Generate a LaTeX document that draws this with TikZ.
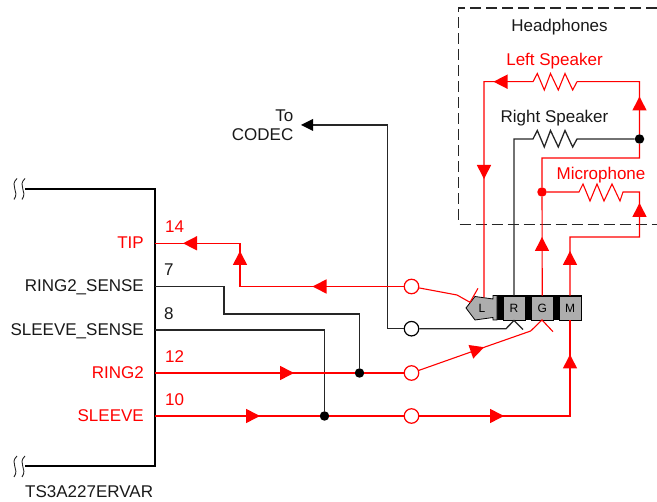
\documentclass[tikz,border=0pt]{standalone}
\usepackage{fontspec}
\setmainfont{Liberation Sans}
\usetikzlibrary{arrows.meta}
\definecolor{rd}{RGB}{255,0,0}
\tikzset{
 rline/.style={draw=rd,line width=1.1pt,line join=miter},
 bline/.style={draw=black!85,line width=1.3pt},
 rtxt/.style={text=rd,font=\fontsize{17}{19}\selectfont,inner sep=0pt},
 btxt/.style={text=black!90,font=\fontsize{17}{19}\selectfont,inner sep=0pt},
 rdot/.style={circle,fill=rd,inner sep=0pt,minimum size=9.5pt},
 bdot/.style={circle,fill=black,inner sep=0pt,minimum size=9.5pt},
 ropen/.style={circle,draw=rd,fill=white,line width=1.2pt,inner sep=0pt,minimum size=14.5pt},
 bopen/.style={circle,draw=black,fill=white,line width=1.2pt,inner sep=0pt,minimum size=14.5pt},
 seg/.style={draw=black,line width=0.8pt,fill=black!32,minimum width=22pt,minimum height=24pt,inner sep=0pt,font=\fontsize{12}{13}\selectfont},
 squig/.style={draw=black!85,line width=0.9pt},
}
\newcommand{\rarrow}[3]{\fill[rd,shift={(#1,#2)},rotate=#3] (7,0)--(-7,7.2)--(-7,-7.2)--cycle;}
\newcommand{\barrow}[3]{\fill[black,shift={(#1,#2)},rotate=#3] (6,0)--(-6,6)--(-6,-6)--cycle;}
\begin{document}
\begin{tikzpicture}[x=1pt,y=-1pt]
\useasboundingbox (0,0) rectangle (657,502);
% chip outline
\coordinate (ct) at (25,189); \coordinate (cb) at (25,466.5);
\draw[line width=2pt] (ct) -- (155,189) -- (155,466.5) -- (cb);
\foreach \y in {189,466.5}{
 \draw[squig] (17,\y-10.5) .. controls (9,\y-3) and (20,\y+2) .. (14,\y+10.5);
 \draw[squig] (25,\y-10.5) .. controls (17,\y-3) and (28,\y+2) .. (22,\y+10.5);
}
% headphones box
\draw[line width=1.2pt,draw=black!85,dash pattern=on 11pt off 5pt] (657,8) -- (458.5,8) -- (458.5,224.5) -- (657,224.5);
% labels
\node[btxt,anchor=base] (hp) at (559.5,32) {Headphones};
\node[rtxt,anchor=base] (ls) at (554.5,66) {Left Speaker};
\node[btxt,anchor=base] (rs) at (554.5,123) {Right Speaker};
\node[rtxt,anchor=base] (mic) at (601,180) {Microphone};
\node[btxt,anchor=base east] (to) at (293.5,122) {To};
\node[btxt,anchor=base east] (codec) at (293.5,141) {CODEC};
\node[rtxt,anchor=base east] (ltip) at (144,249) {TIP};
\node[btxt,anchor=base east] (lr2s) at (144,292) {RING2\_SENSE};
\node[btxt,anchor=base east] (lss) at (144,336) {SLEEVE\_SENSE};
\node[rtxt,anchor=base east] (lr2) at (144,379) {RING2};
\node[rtxt,anchor=base east] (lsl) at (144,422) {SLEEVE};
\node[rtxt,anchor=base west] (n14) at (165,233) {14};
\node[btxt,anchor=base west] (n7) at (164,276) {7};
\node[btxt,anchor=base west] (n8) at (164,320) {8};
\node[rtxt,anchor=base west] (n12) at (165,363) {12};
\node[rtxt,anchor=base west] (n10) at (165,406) {10};
\node[btxt,anchor=base west] (part) at (25,497.5) {TS3A227ERVAR};
% named points
\coordinate (t1) at (240,286.5);
\coordinate (s1) at (224,286.5);
\coordinate (s2) at (224,314);
\coordinate (s3) at (359.5,314);
\coordinate (s4) at (324.5,330);
\coordinate (tipin) at (155,243.3);
\coordinate (tipup) at (240,243.3);
\coordinate (c1) at (387.5,328.7);
\coordinate (c2) at (387.5,125);
\coordinate (c3) at (304,125);
\node[ropen] (ot) at (411.5,286.5) {};
\node[bopen] (ob) at (411.5,328.7) {};
\node[ropen] (or) at (411.5,373) {};
\node[ropen] (os) at (411.5,416) {};
\node[bdot] (d1) at (359.5,373) {};
\node[bdot] (d2) at (324.5,416) {};
\node[bdot] (d3) at (639.5,139) {};
\node[rdot] (d4) at (542,192) {};
% plug
\fill[black] (497,295.5) rectangle (582,320);
\draw[line width=0.8pt,fill=black!32] (466,308) -- (475,296.5) -- (493,299) -- (493,295.5) -- (497,295.5) -- (497,320) -- (493,320) -- (493,317.5) -- (475,320) -- cycle;
\node[font=\fontsize{12}{13}\selectfont] (pL) at (482,308) {L};
\node[seg] (pR) at (514,308) {R};
\node[seg] (pG) at (542.3,308) {G};
\node[seg] (pM) at (570,308) {M};
% black wires
\draw[bline] (155,286.5) -- (s1) -- (s2) -- (s3) -- (d1);
\draw[bline] (155,330) -- (s4) -- (d2);
\draw[bline] (ob) -- (c1) -- (c2) -- (c3);
\draw[bline] (ob) -- (506,328.7) -- (514,320.5) -- (523,329.5);
\draw[bline] (pR) -- (514,139) -- (533,139) -- (537.3,130.5) -- (544.3,147) -- (550.5,130.5) -- (558.3,147) -- (565,130.5) -- (572.7,147) -- (577,139) -- (d3);
\barrow{307}{125}{180}
% red wires
\draw[rline] (tipin) -- (tipup) -- (t1) -- (ot);
\draw[rline] (ot) -- (457,295) -- (470,302.3) -- (478,288.3);
\draw[rline] (155,373) -- (d1) -- (or);
\draw[rline] (or) -- (485,347) -- (530.7,331) -- (542,320) -- (553,331.7);
\draw[rline] (155,416) -- (d2) -- (os) -- (570,416) -- (pM);
\draw[rline] (pG) -- (d4) -- (542,158) -- (639.5,158) -- (d3) -- (639.5,81.7) -- (577,81.7);
\draw[rline] (d4) -- (579,192) -- (583,184) -- (590,201) -- (597,184) -- (604,201) -- (612,184) -- (620,201) -- (623,192) -- (639.5,192) -- (639.5,237) -- (570,237) -- (pM);
\draw[rline] (577,81.7) -- (572.7,90) -- (565,73.5) -- (558.3,90) -- (550.5,73.5) -- (544.3,90) -- (537.3,73.5) -- (533,81.7) -- (484,81.7) -- (484,297.5);
\rarrow{190}{243.3}{180}
\rarrow{240}{258}{90}
\rarrow{319.5}{286.5}{180}
\rarrow{287}{373}{0}
\rarrow{253}{416}{0}
\rarrow{497}{416}{0}
\rarrow{570}{361.5}{90}
\rarrow{477.5}{349.5}{19}
\rarrow{570}{258}{90}
\rarrow{542}{244}{90}
\rarrow{639.5}{210}{90}
\rarrow{639.5}{103.5}{90}
\rarrow{500.5}{81.7}{180}
\rarrow{484}{172}{-90}
\end{tikzpicture}
\end{document}
